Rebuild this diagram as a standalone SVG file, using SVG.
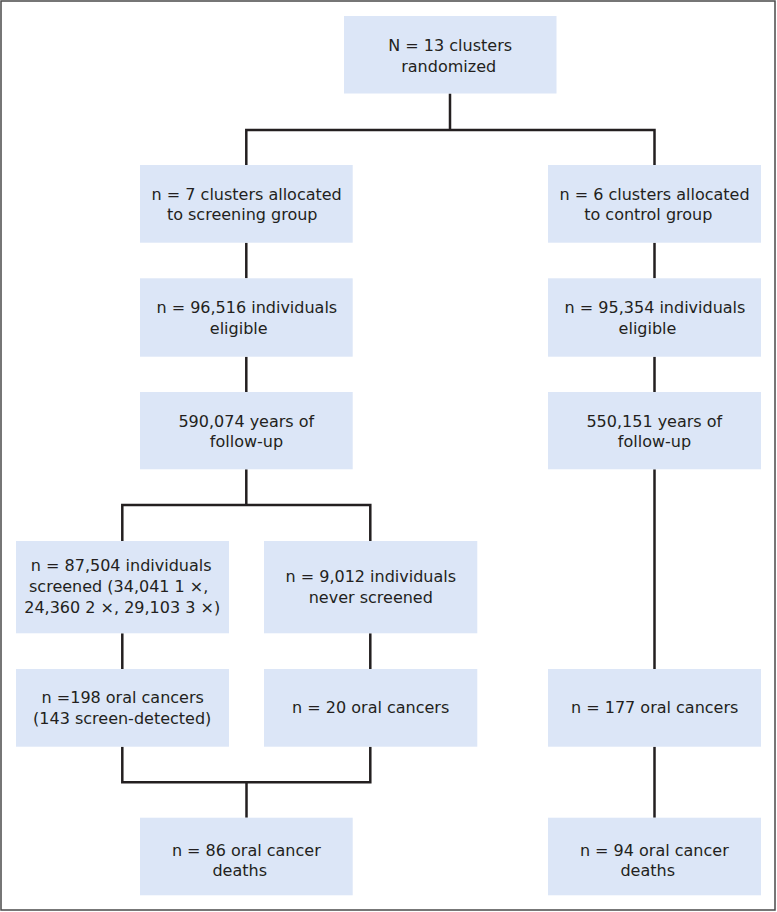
<svg xmlns="http://www.w3.org/2000/svg" width="777" height="912" viewBox="0 0 777 912">
<style>
.box{fill:#dce6f7;stroke:none}
.t{font-family:"DejaVu Sans","Liberation Sans",sans-serif;font-size:16px;fill:#231f20;text-anchor:middle}
.c{fill:none;stroke:#231f20;stroke-width:2.5;stroke-linecap:butt;stroke-linejoin:miter}
</style>
<rect x="1" y="1" width="774" height="909" fill="#ffffff" stroke="#4a4a4a" stroke-width="1.5"/>
<g id="connectors">
<path class="c" d="M450,93.5V130M246.3,165V130H654.5V165"/>
<path class="c" d="M246.3,242.7V278.3M246.3,356.7V392M246.3,469.3V505M122.3,541V505H370.3V541"/>
<path class="c" d="M122.3,633.3V669M370.3,633.3V669M122.3,746.7V782.3H370.3V746.7M246.5,782.3V817.7"/>
<path class="c" d="M654.5,242.7V278.3M654.5,356.7V392M654.5,469.3V669M654.5,746.7V817.7"/>
</g>
<g id="n_randomized">
<rect class="box" x="344" y="16" width="212.5" height="77.5"/>
<text class="t" x="450.2" y="51">N = 13 clusters</text>
<text class="t" x="448.7" y="72">randomized</text>
</g>
<g id="n_screening_alloc">
<rect class="box" x="140" y="165" width="212.7" height="77.7"/>
<text class="t" x="246.7" y="199.5">n = 7 clusters allocated</text>
<text class="t" x="242.2" y="220">to screening group</text>
</g>
<g id="n_control_alloc">
<rect class="box" x="548" y="165" width="213" height="77.7"/>
<text class="t" x="654.5" y="199.5">n = 6 clusters allocated</text>
<text class="t" x="648.3" y="220">to control group</text>
</g>
<g id="n_screen_eligible">
<rect class="box" x="140" y="278.3" width="212.7" height="78.4"/>
<text class="t" x="246.8" y="313.3">n = 96,516 individuals</text>
<text class="t" x="238.7" y="333.5">eligible</text>
</g>
<g id="n_control_eligible">
<rect class="box" x="548" y="278.3" width="213" height="78.4"/>
<text class="t" x="655" y="313.3">n = 95,354 individuals</text>
<text class="t" x="647.5" y="333.5">eligible</text>
</g>
<g id="n_screen_followup">
<rect class="box" x="140" y="392" width="212.7" height="77.3"/>
<text class="t" x="246.3" y="426.7">590,074 years of</text>
<text class="t" x="246.5" y="447">follow-up</text>
</g>
<g id="n_control_followup">
<rect class="box" x="548" y="392" width="213" height="77.3"/>
<text class="t" x="654.3" y="426.7">550,151 years of</text>
<text class="t" x="654.5" y="447">follow-up</text>
</g>
<g id="n_screened">
<rect class="box" x="16" y="541" width="213" height="92.3"/>
<text class="t" x="121.2" y="570.5">n = 87,504 individuals</text>
<text class="t" x="118.7" y="591.8">screened (34,041 1 ×,</text>
<text class="t" x="122.2" y="613">24,360 2 ×, 29,103 3 ×)</text>
</g>
<g id="n_never_screened">
<rect class="box" x="264" y="541" width="213.3" height="92.3"/>
<text class="t" x="370.8" y="581.5">n = 9,012 individuals</text>
<text class="t" x="370.8" y="602.5">never screened</text>
</g>
<g id="n_screened_cancers">
<rect class="box" x="16" y="669" width="213" height="77.7"/>
<text class="t" x="122.7" y="702.5">n =198 oral cancers</text>
<text class="t" x="122.2" y="724">(143 screen-detected)</text>
</g>
<g id="n_never_cancers">
<rect class="box" x="264" y="669" width="213.3" height="77.7"/>
<text class="t" x="370.7" y="713">n = 20 oral cancers</text>
</g>
<g id="n_control_cancers">
<rect class="box" x="548" y="669" width="213" height="77.7"/>
<text class="t" x="654.7" y="713">n = 177 oral cancers</text>
</g>
<g id="n_screen_deaths">
<rect class="box" x="140" y="817.7" width="212.7" height="77.6"/>
<text class="t" x="246.3" y="855.5">n = 86 oral cancer</text>
<text class="t" x="239.7" y="875.7">deaths</text>
</g>
<g id="n_control_deaths">
<rect class="box" x="548" y="817.7" width="213" height="77.6"/>
<text class="t" x="654.3" y="855.5">n = 94 oral cancer</text>
<text class="t" x="647.7" y="875.7">deaths</text>
</g>
</svg>
